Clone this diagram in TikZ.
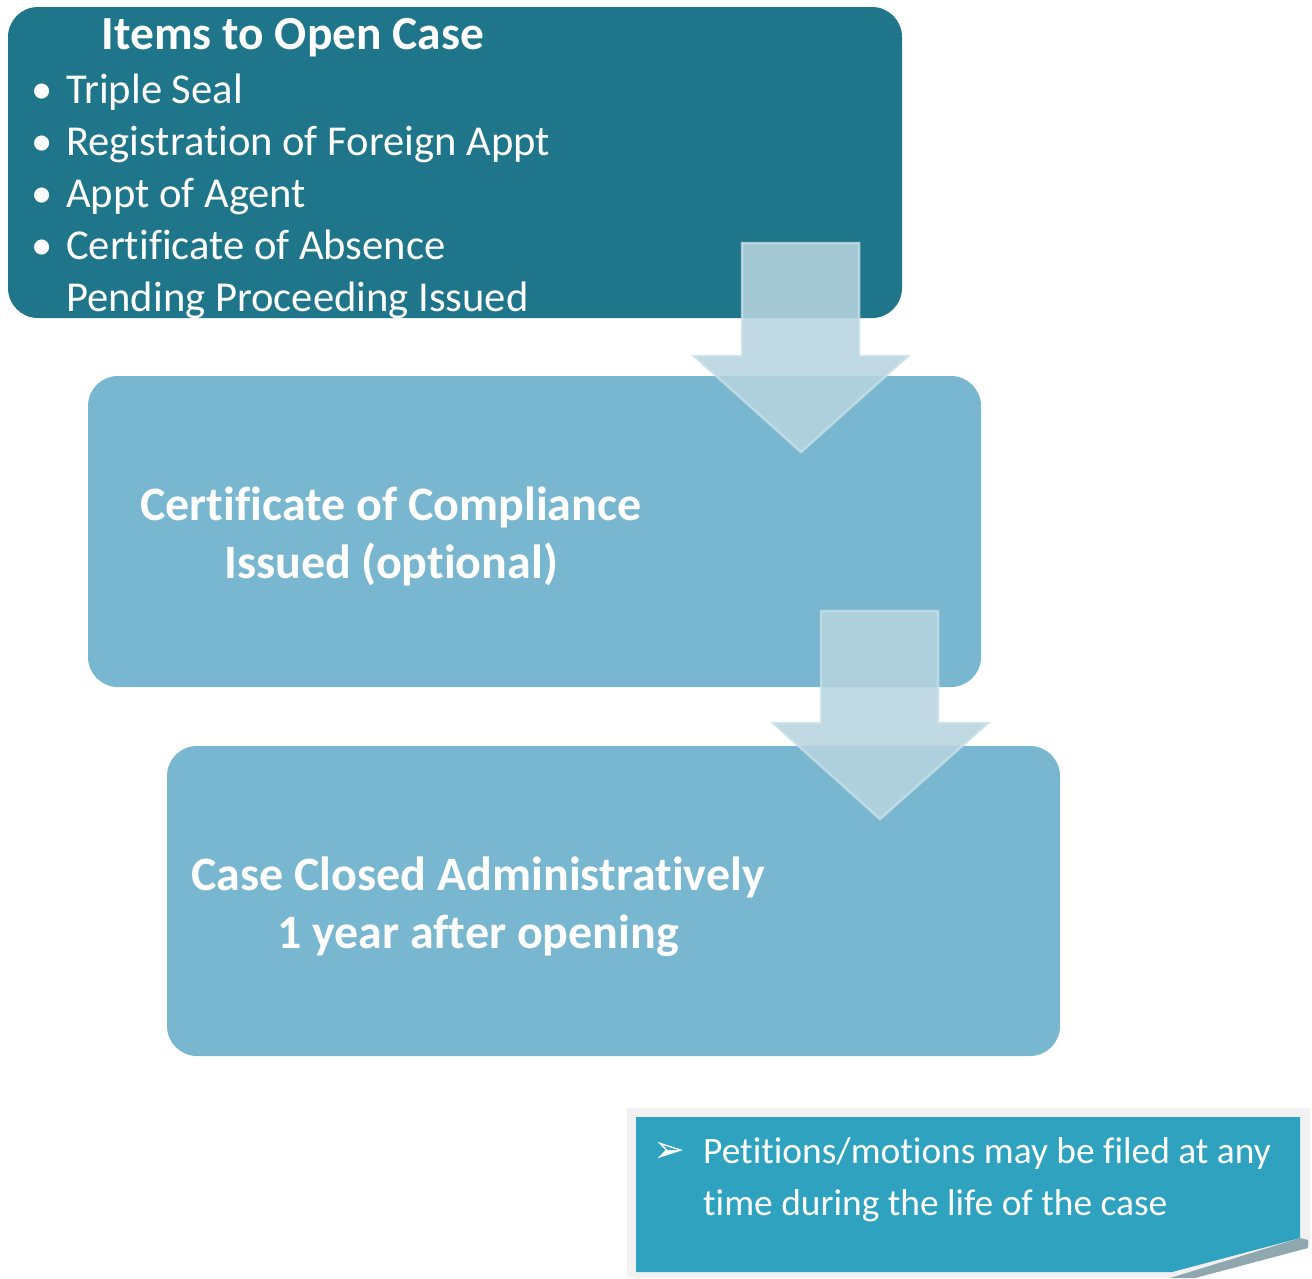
\documentclass[tikz,border=0pt]{standalone}
\usepackage{fontspec}
\setmainfont{Carlito}[Ligatures={NoCommon,NoContextual}]
\newfontfamily\dejavu{DejaVu Sans}
\definecolor{darkbox}{HTML}{1F7589}
\definecolor{midbox}{HTML}{78B7CF}
\definecolor{notebox}{HTML}{2EA2BF}
\definecolor{arrowc}{RGB}{182,211,222}
\definecolor{arrowedge}{RGB}{200,224,232}
\definecolor{noteframe}{HTML}{F1F1F1}
\definecolor{noteshadow}{HTML}{8FA8AF}
\tikzset{
  stepbox/.style={rounded corners=30pt},
  listtxt/.style={anchor=base west, inner sep=0pt, text=white, font=\fontsize{42.6}{42.6}\selectfont},
  titletxt/.style={anchor=base, inner sep=0pt, text=white, font=\bfseries\fontsize{47.5}{47.5}\selectfont},
  boldtxt/.style={anchor=base, inner sep=0pt, text=white, font=\bfseries\fontsize{48}{48}\selectfont},
  notetxt/.style={anchor=base west, inner sep=0pt, text=white, font=\fontsize{37.4}{37.4}\selectfont},
  blockarrow/.style={fill=arrowc, fill opacity=0.88, draw=arrowedge, draw opacity=0.8, line width=2.5pt, line join=miter},
}
\begin{document}
\begin{tikzpicture}[x=1pt,y=-1pt]
\useasboundingbox (0,0) rectangle (1312,1278);
% boxes
\fill[darkbox, stepbox] (8,7) rectangle (902,318);
\fill[midbox, stepbox] (88,376) rectangle (981,687);
\fill[midbox, stepbox] (167,746) rectangle (1060,1056);
% box 1 text
\node[titletxt] (title) at (293,49) {Items to Open Case};
\node[listtxt] (b1) at (31,103) {•};
\node[listtxt] (i1) at (66,103) {Triple Seal};
\node[listtxt] (b2) at (31,155) {•};
\node[listtxt] (i2) at (66,155) {Registration of Foreign Appt};
\node[listtxt] (b3) at (31,207) {•};
\node[listtxt] (i3) at (66,207) {Appt of Agent};
\node[listtxt] (b4) at (31,259) {•};
\node[listtxt] (i4) at (66,259) {Certificate of Absence};
\node[listtxt] (i5) at (66,311) {Pending Proceeding Issued};
% box 2 text
\node[boldtxt] (c1) at (391,520) {Certificate of Compliance};
\node[boldtxt] (c2) at (391,578) {Issued (optional)};
% box 3 text
\node[boldtxt] (d1) at (478,890) {Case Closed Administratively};
\node[boldtxt] (d2) at (478,948) {1 year after opening};
% block arrows
\path[blockarrow] (742,243) -- (859,243) -- (859,356) -- (908,356) -- (801,452) -- (694,356) -- (742,356) -- cycle;
\path[blockarrow] (821,611) -- (938,611) -- (938,723) -- (988,723) -- (880,819) -- (773,723) -- (821,723) -- cycle;
% note box
\fill[noteframe] (627,1108) -- (1310,1108) -- (1310,1246) -- (1185,1278) -- (627,1278) -- cycle;
\fill[noteshadow] (1170,1278) -- (1300,1238) -- (1308,1240) -- (1308,1248) -- (1195,1278) -- cycle;
\fill[notebox] (636,1117) -- (1300,1117) -- (1300,1238) -- (1172,1272) -- (636,1272) -- cycle;
\node[notetxt, font=\dejavu\fontsize{38}{38}\selectfont] (nb) at (653,1162) {➢};
\node[notetxt] (n1) at (703,1163) {Petitions/motions may be filed at any};
\node[notetxt] (n2) at (703,1215) {time during the life of the case};
\end{tikzpicture}
\end{document}
